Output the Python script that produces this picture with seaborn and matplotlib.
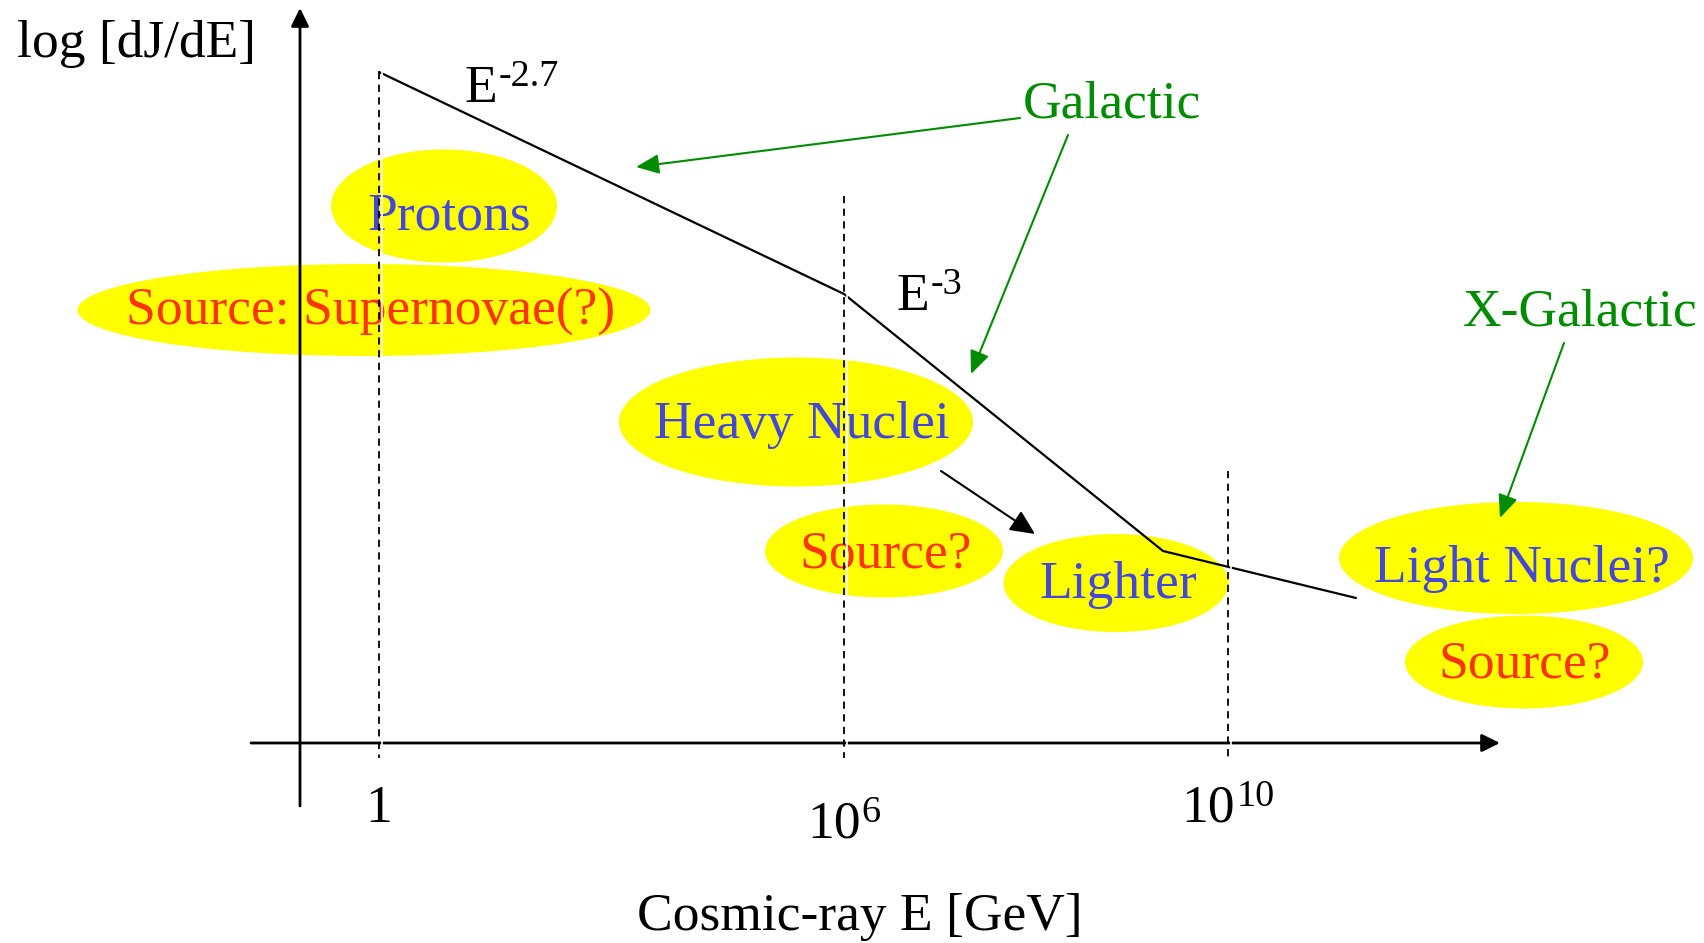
import matplotlib
matplotlib.use("Agg")
import matplotlib.pyplot as plt
from matplotlib.patches import Ellipse
import seaborn as sns
import pandas as pd

# ---------------- data (schematic diagram units: x right, y down) ----------------
# broken power-law cosmic-ray spectrum (knots: start, knee, ankle, end)
spectrum_x = [379, 844, 1163, 1356]
spectrum_y = [72, 294, 551, 598]

# energy markers on the x axis
tick_x = [379, 844, 1228]
tick_base = ["1", "10", "10"]
tick_exp = ["", "6", "10"]
tick_baseline = [822, 838, 822]
tick_top = [72, 196, 471]

# population bubbles
bubble_labels = ["Protons", "Source: Supernovae(?)", "Heavy Nuclei", "Source?",
                 "Lighter", "Light Nuclei?", "Source?"]
bubble_kind = ["species", "source", "species", "source", "species", "species", "source"]
bubble_cx = [444, 364, 796, 884, 1116, 1516, 1524]
bubble_cy = [206, 310, 422, 551, 583, 558, 662]
bubble_w = [226, 573, 354, 238, 225, 354, 238]
bubble_h = [113, 92, 129, 93, 98, 112, 93]
label_cx = [449, 371, 802, 886, 1118, 1522, 1525]
label_base = [230, 325, 438, 567, 598, 582, 678]

# slope annotations
slope_base = ["E", "E"]
slope_exp = ["-2.7", "-3"]
slope_x = [465, 897]
slope_baseline = [102, 310]

# origin annotations
origin_labels = ["Galactic", "X-Galactic"]
origin_cx = [1112, 1580]
origin_base = [117, 326]
arrow_from = [(1020, 118), (1068, 135), (1564, 343)]
arrow_to = [(636, 167), (971, 374), (1500, 518)]

# ---------------- style ----------------
sns.set_theme(style="white")
plt.rcParams["font.family"] = ["Liberation Serif", "DejaVu Serif"]
plt.rcParams["text.color"] = "black"

FS = 38.5
FS_SUP = 27.5
SUP_RAISE = 16
BLUE = "#4448DA"
RED = "#FF3300"
GREEN = "#008C00"
YELLOW = "#FFFF00"

fig = plt.figure(figsize=(17.04, 9.43), dpi=100)
ax = fig.add_axes([0, 0, 1, 1])

# bubbles
for cx, cy, w, h in zip(bubble_cx, bubble_cy, bubble_w, bubble_h):
    ax.add_patch(Ellipse((cx, cy), w, h, facecolor=YELLOW, edgecolor="none", zorder=1))

# bubble labels
for lab, kind, cx, by in zip(bubble_labels, bubble_kind, label_cx, label_base):
    ax.text(cx, by, lab, ha="center", va="baseline", fontsize=FS,
            color=BLUE if kind == "species" else RED, zorder=3)

# spectrum
df = pd.DataFrame({"x": spectrum_x, "y": spectrum_y})
sns.lineplot(data=df, x="x", y="y", ax=ax, color="black", linewidth=1.6,
             sort=False, estimator=None, zorder=4)
ax.set_xlim(0, 1704)
ax.set_ylim(943, 0)
ax.set_axis_off()

# axes arrows
AX_Y = 743
AX_X = 300
head = "-|>,head_length=0.55,head_width=0.27"
ax.annotate("", xy=(1500, AX_Y), xytext=(251, AX_Y),
            arrowprops=dict(arrowstyle=head, mutation_scale=20, color="black", lw=2,
                            shrinkA=0, shrinkB=0), zorder=5)
ax.annotate("", xy=(AX_X, 8), xytext=(AX_X, 806),
            arrowprops=dict(arrowstyle=head, mutation_scale=20, color="black", lw=2,
                            shrinkA=0, shrinkB=0), zorder=5)

# dashed energy markers
for x, top in zip(tick_x, tick_top):
    ax.plot([x + 2.5, x + 2.5], [top, 758], color="white", lw=1.2, zorder=5)
    ax.plot([x, x], [top, 758], color="black", lw=1.3, dashes=(4, 3), zorder=6)

fig.canvas.draw()
renderer = fig.canvas.get_renderer()

# tick labels (powers of ten drawn as base + raised exponent)
for x, b, e, bl in zip(tick_x, tick_base, tick_exp, tick_baseline):
    if not e:
        ax.text(x, bl, b, ha="center", va="baseline", fontsize=FS)
        continue
    tb = ax.text(0, bl, b, ha="left", va="baseline", fontsize=FS)
    te = ax.text(0, bl - SUP_RAISE, e, ha="left", va="baseline", fontsize=FS_SUP)
    wb = tb.get_window_extent(renderer).width
    we = te.get_window_extent(renderer).width
    left = x - (wb + we + 1) / 2
    tb.set_x(left)
    te.set_x(left + wb + 1)

# slopes
for b, e, x, bl in zip(slope_base, slope_exp, slope_x, slope_baseline):
    tb = ax.text(x, bl, b, ha="left", va="baseline", fontsize=FS, zorder=3)
    wb = tb.get_window_extent(renderer).width
    ax.text(x + wb + 1, bl - SUP_RAISE, e, ha="left", va="baseline", fontsize=FS_SUP, zorder=3)

# axis titles
ax.text(17, 57, "log [dJ/dE]", ha="left", va="baseline", fontsize=FS)
ax.text(860, 930, "Cosmic-ray E [GeV]", ha="center", va="baseline", fontsize=FS)

# origins
for lab, cx, bl in zip(origin_labels, origin_cx, origin_base):
    ax.text(cx, bl, lab, ha="center", va="baseline", fontsize=FS, color=GREEN)
for (x0, y0), (x1, y1) in zip(arrow_from, arrow_to):
    ax.annotate("", xy=(x1, y1), xytext=(x0, y0),
                arrowprops=dict(arrowstyle="-|>,head_length=0.7,head_width=0.3",
                                mutation_scale=20, color=GREEN, lw=1.5,
                                shrinkA=0, shrinkB=0), zorder=5)

# heavy -> lighter arrow
ax.annotate("", xy=(1035, 534), xytext=(941, 471),
            arrowprops=dict(arrowstyle="-|>,head_length=0.75,head_width=0.35",
                            mutation_scale=20, color="black", lw=1.5,
                            shrinkA=0, shrinkB=0), zorder=5)

fig.savefig("out.png", dpi=100)
